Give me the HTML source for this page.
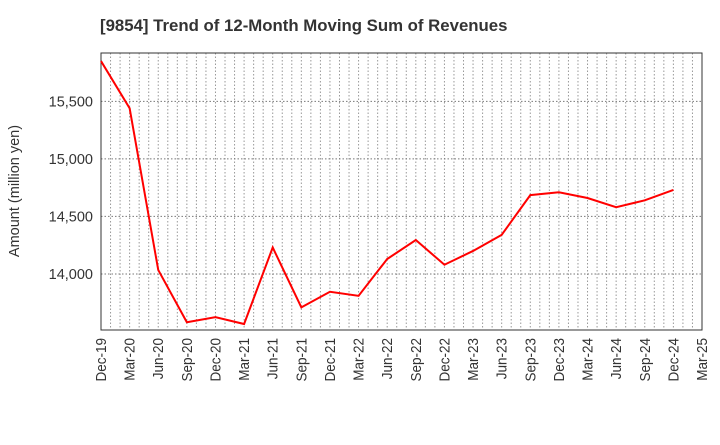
<!DOCTYPE html>
<html><head><meta charset="utf-8"><style>
body{margin:0;background:#fff;font-family:"Liberation Sans",Arial,sans-serif}
</style></head><body>
<svg width="720" height="440" xmlns="http://www.w3.org/2000/svg">
<text x="100" y="31" font-size="16.8" font-weight="bold" fill="#333">[9854]  Trend of 12-Month Moving Sum of Revenues</text>
<text transform="translate(19,191) rotate(-90)" text-anchor="middle" font-size="14.5" fill="#333">Amount (million yen)</text>
<g id="grid"></g><g id="ticks"></g>
<rect x="101" y="53" width="601" height="277" fill="none" stroke="#333" stroke-width="1"/>
<path id="line" fill="none" stroke="#f00" stroke-width="2"/>
</svg>
<script>
const categories=["Dec-19","Mar-20","Jun-20","Sep-20","Dec-20","Mar-21","Jun-21","Sep-21","Dec-21","Mar-22","Jun-22","Sep-22","Dec-22","Mar-23","Jun-23","Sep-23","Dec-23","Mar-24","Jun-24","Sep-24","Dec-24","Mar-25"];
const values=[15850,15440,14035,13580,13625,13565,14230,13710,13845,13810,14130,14295,14080,14200,14340,14685,14710,14660,14580,14640,14730];
const yTicks=[14000,14500,15000,15500];
const yTickLabels=["14,000","14,500","15,000","15,500"];
const L=101,R=702,T=53,B=330,yMin=13513,yMax=15920;
const NS="http://www.w3.org/2000/svg";
const xs=i=>L+(R-L)*i/(categories.length-1);
const ys=v=>B-(v-yMin)/(yMax-yMin)*(B-T);
const grid=document.getElementById('grid'),ticks=document.getElementById('ticks');
function mk(tag,a,p){const e=document.createElementNS(NS,tag);for(const k in a)e.setAttribute(k,a[k]);p.appendChild(e);return e;}
const months=(categories.length-1)*3;
for(let m=1;m<months;m++){const x=L+(R-L)*m/months;
const g=mk('line',{x1:x,x2:x,y1:T,y2:B,stroke:'#999','stroke-dasharray':'1.5,2','stroke-width':1},grid);

}
yTicks.forEach((v,i)=>{const y=ys(v);
const g=mk('line',{x1:L,x2:R,y1:y,y2:y,stroke:'#777','stroke-dasharray':'1.5,2','stroke-width':1},grid);


const t=mk('text',{x:L-8,y:y+5,'text-anchor':'end','font-size':14.5,fill:'#333'},ticks);t.textContent=yTickLabels[i];

});
categories.forEach((c,i)=>{const x=xs(i);
const t=mk('text',{transform:`translate(${x+5},${B+8}) rotate(-90) scale(1,1.1)`,'text-anchor':'end','font-size':13.5,fill:'#333'},ticks);t.textContent=c;

});
document.getElementById('line').setAttribute('d',values.map((v,i)=>(i?'L':'M')+xs(i)+','+ys(v)).join(''));
</script>
</body></html>
